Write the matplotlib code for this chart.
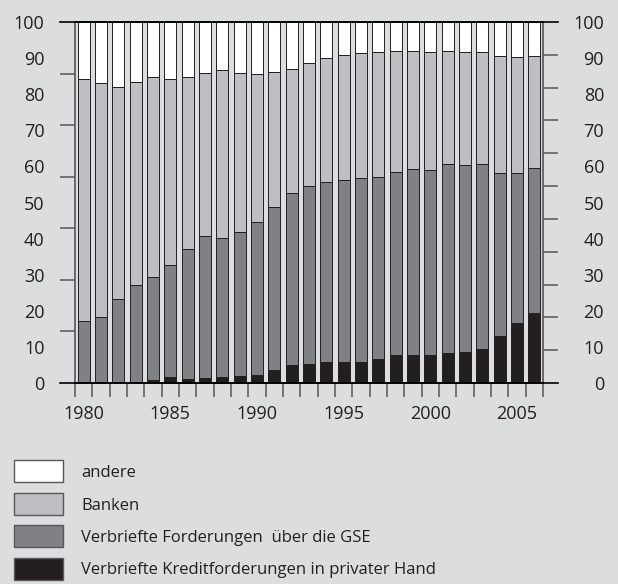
"""Gestapeltes Säulendiagramm: Halter von Hypothekenforderungen 1980-2006."""

import matplotlib
matplotlib.use("Agg")
import matplotlib.pyplot as plt
import numpy as np
from matplotlib.patches import Rectangle
from matplotlib.ticker import FixedLocator


years = list(range(1980, 2007))

# Anteile in Prozent, von unten nach oben
private = [0.0, 0.0, 0.0, 0.0, 0.8, 1.7, 1.1, 1.4, 1.7, 1.9, 2.2, 3.6, 4.9, 5.4,
           5.7, 5.7, 5.9, 6.6, 7.7, 7.7, 7.7, 8.3, 8.6, 9.3, 12.9, 16.6, 19.3]
gse_top = [17.3, 18.3, 23.3, 27.1, 29.4, 32.6, 37.2, 40.6, 40.1, 41.9, 44.5, 48.8, 52.5, 54.7,
           55.8, 56.2, 56.8, 57.1, 58.4, 59.2, 58.9, 60.7, 60.4, 60.7, 58.3, 58.2, 59.6]
banks_top = [84.2, 83.0, 81.9, 83.4, 84.8, 84.1, 84.7, 86.0, 86.6, 86.0, 85.7, 86.2, 87.1, 88.7,
             90.1, 90.9, 91.4, 91.7, 91.9, 91.9, 91.7, 92.1, 91.7, 91.7, 90.5, 90.3, 90.5]

series_labels = [
    "andere",
    "Banken",
    "Verbriefte Forderungen  über die GSE",
    "Verbriefte Kreditforderungen in privater Hand",
]
year_labels = [1980, 1985, 1990, 1995, 2000, 2005]
value_labels = list(range(0, 101, 10))

BG = "#dcdddf"
COLORS = ["#ffffff", "#bebfc2", "#808184", "#231f20"]
EDGE = "#231f20"
TICK_GRAY = "#555558"
TICK_SIZE = 13
LEGEND_SIZE = 12

plt.rcParams["font.family"] = ["Open Sans", "DejaVu Sans"]

fig = plt.figure(figsize=(6.18, 5.84), dpi=100, facecolor=BG)
ax = fig.add_axes([75 / 618, 1 - 383 / 584, 468 / 618, 361 / 584])
ax.set_facecolor(BG)

x = np.arange(len(years))
private = np.array(private)
gse_top = np.array(gse_top)
banks_top = np.array(banks_top)
width = 0.71

segments = [
    (private, np.zeros_like(private), COLORS[3]),
    (gse_top - private, private, COLORS[2]),
    (banks_top - gse_top, gse_top, COLORS[1]),
    (100 - banks_top, banks_top, COLORS[0]),
]
for heights, bottoms, color in segments:
    ax.bar(x, heights, bottom=bottoms, width=width, color=color,
           edgecolor=EDGE, linewidth=0.7, zorder=2)

ax.set_xlim(-0.5, len(years) - 0.5)
ax.set_ylim(0, 100)

for side in ["left", "right"]:
    ax.spines[side].set_color(TICK_GRAY)
    ax.spines[side].set_linewidth(1.2)
for side in ["top", "bottom"]:
    ax.spines[side].set_color("black")
    ax.spines[side].set_linewidth(1.2)

# x-Achse: Striche an den Säulengrenzen, Beschriftung alle fünf Jahre
ax.set_xticks([years.index(y) for y in year_labels])
ax.set_xticklabels([str(y) for y in year_labels], fontsize=TICK_SIZE, color="#231f20")
ax.tick_params(axis="x", which="major", length=0, pad=16)
ax.xaxis.set_minor_locator(FixedLocator(np.arange(-0.5, len(years), 1.0)))
ax.tick_params(axis="x", which="minor", length=10, width=1.1, color=TICK_GRAY,
               direction="out")

# linke y-Achse: Striche in Siebteln, Beschriftung in Zehnerschritten
ax.set_yticks(value_labels)
ax.set_yticklabels([str(v) for v in value_labels], fontsize=TICK_SIZE, color="#231f20")
ax.tick_params(axis="y", which="major", length=0, pad=22)
ax.yaxis.set_minor_locator(FixedLocator(np.linspace(0, 100, 8)))
ax.tick_params(axis="y", which="minor", length=11, width=1.1, color=TICK_GRAY,
               direction="out")

# rechte y-Achse: Striche in Elfteln
ax2 = ax.twinx()
ax2.set_ylim(0, 100)
for side in ax2.spines:
    ax2.spines[side].set_visible(False)
ax2.set_yticks(value_labels)
ax2.set_yticklabels([str(v) for v in value_labels], fontsize=TICK_SIZE, color="#231f20")
for label in ax2.get_yticklabels():
    label.set_horizontalalignment("right")
ax2.tick_params(axis="y", which="major", length=0, pad=44)
ax2.yaxis.set_minor_locator(FixedLocator(np.linspace(0, 100, 12)))
ax2.tick_params(axis="y", which="minor", length=11, width=1.1, color=TICK_GRAY,
                direction="out")

# schwarze Linien oben und unten über die Striche hinaus verlängern
for y_px in [22, 383]:
    fig.add_artist(plt.Line2D([60 / 618, 558 / 618], [1 - y_px / 584] * 2,
                              color="black", linewidth=1.2, transform=fig.transFigure))

# Legende
for i, (label, color) in enumerate(zip(series_labels, COLORS)):
    top_px = 460 + i * 32.5
    fig.add_artist(Rectangle((14 / 618, 1 - (top_px + 22) / 584), 49 / 618, 22 / 584,
                             facecolor=color, edgecolor="#58585a", linewidth=1.0,
                             transform=fig.transFigure))
    fig.text(81 / 618, 1 - (top_px + 13) / 584, label, fontsize=LEGEND_SIZE, color="#231f20",
             ha="left", va="center")

fig.savefig("out.png", dpi=100, facecolor=BG)
